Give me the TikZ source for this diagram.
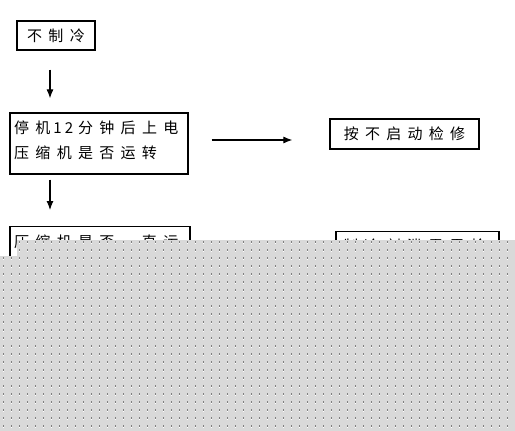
\documentclass[tikz,border=0pt]{standalone}
\usepackage{fontspec}
\newfontfamily\cjk[LetterSpace=42]{Noto Sans CJK SC}
\newfontfamily\cjkd[LetterSpace=20]{Noto Sans CJK SC}
\usetikzlibrary{arrows.meta}
\tikzset{
  box/.style={draw, line width=1.2pt, rectangle, inner sep=0pt},
  txt/.style={inner sep=0pt, font=\cjk\fontsize{15}{25}\selectfont},
  arr/.style={line width=1.1pt, -{Latex[length=9pt,width=7pt]}},
}
\begin{document}
\begin{tikzpicture}[x=1pt,y=-1pt]
\useasboundingbox[fill=white] (0,0) rectangle (515,431);
\node[box, txt, minimum width=78pt, minimum height=29pt] (b1) at (56,35.5) {不制冷};
\node[box, minimum width=178pt, minimum height=61pt] (b2) at (99,143.5) {};
\node[txt, anchor=west, align=left] (t2) at (14,140.5) {停机\hspace{3pt}{\cjkd 12}\hspace{5pt}分钟后上电\\压缩机是否运转};
\node[box, txt, minimum width=149pt, minimum height=30pt] (b4) at (404.5,134) {按不启动检修};
\node[box, minimum width=180pt, minimum height=70pt, anchor=north] (b3) at (100,226) {};
\node[txt, anchor=west] (t3) at (14,242) {压缩机是否一直运};
\node[box, minimum width=163pt, minimum height=70pt, anchor=north] (b5) at (417.5,231) {};
\node[txt, anchor=west] (t5) at (343,246) {制冷剂泄露需检};
\draw[arr] ([xshift=-6pt,yshift=-19pt]b1.south) -- ([xshift=-49pt,yshift=14pt]b2.north);
\draw[arr] ([xshift=-49pt,yshift=-5pt]b2.south) -- ([xshift=-50pt,yshift=16pt]b3.north);
\draw[arr] ([xshift=23pt,yshift=3.5pt]b2.east) -- ([xshift=-37pt,yshift=-6pt]b4.west);
% grey cover
\fill[black!15] (17,240) -- (515,240) -- (515,431) -- (0,431) -- (0,256) -- (17,256) -- cycle;
\begin{scope}
\clip (17,240) -- (515,240) -- (515,431) -- (0,431) -- (0,256) -- (17,256) -- cycle;
\foreach \i in {0,...,64}{
  \foreach \j in {0,...,24}{
    \fill[black!50] (\i*8+3,\j*8+241) rectangle ++(1.4,1.8);
    \fill[white] (\i*8+3,\j*8+243) rectangle ++(1.4,1.3);
  }
}
\end{scope}
\end{tikzpicture}
\end{document}
